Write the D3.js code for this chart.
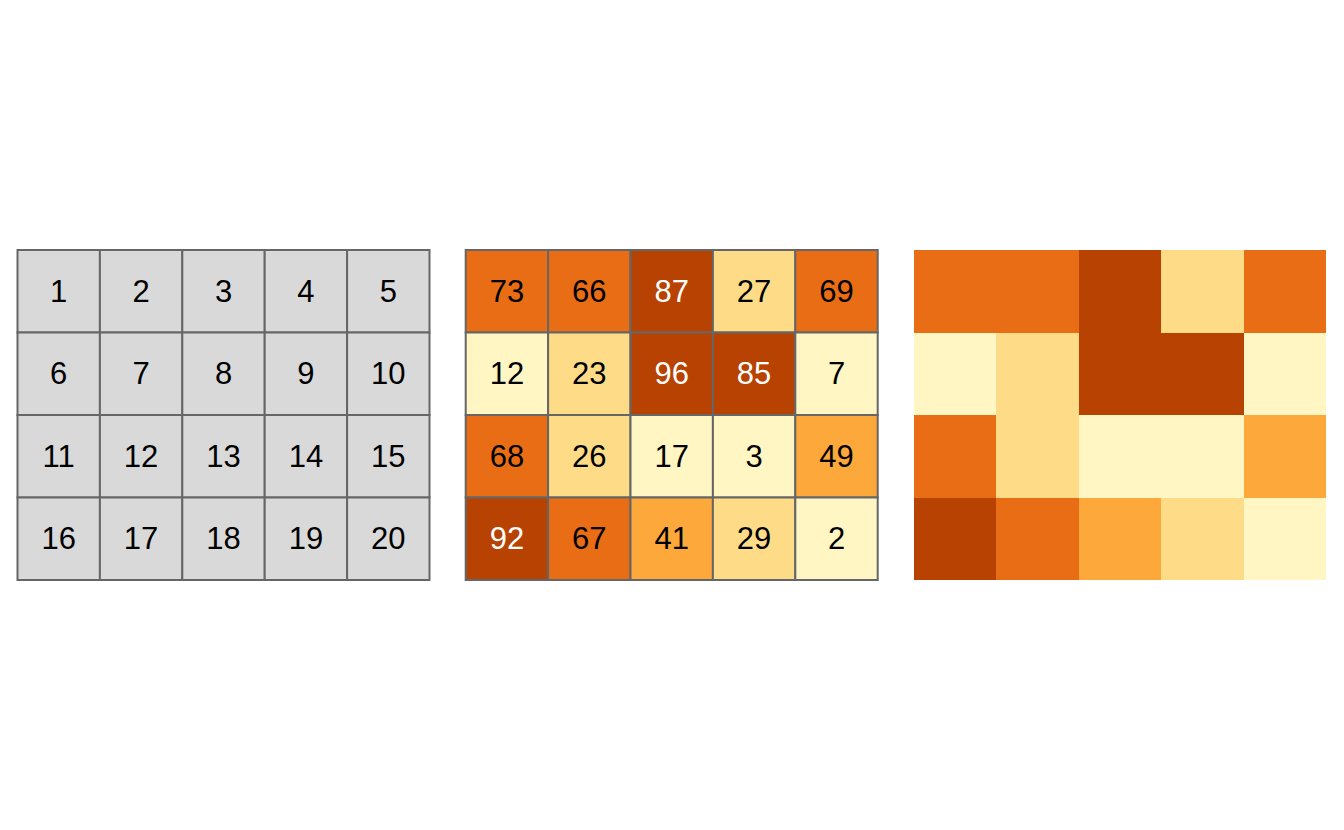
<!DOCTYPE html>
<html><head><meta charset="utf-8">
<script src="https://d3js.org/d3.v7.min.js"></script>
<style>body{margin:0;background:#fff}svg{display:block}</style>
</head><body>
<svg id="c" width="1344" height="830"></svg>
<script>
const indices = d3.range(1, 21);
const values = [73, 66, 87, 27, 69, 12, 23, 96, 85, 7, 68, 26, 17, 3, 49, 92, 67, 41, 29, 2];
const binEdges = [20, 40, 60, 80];
const binColors = ["#FFF6C3", "#FEDC87", "#FDA83A", "#E86D15", "#B74201"];
const nCols = 5, nRows = 4;

(function () {
const svg = d3.select("#c");
const panelX = [17.5, 465.7, 914];
const panelW = 412, panelTop = 250, panelH = 330;
const color = d3.scaleThreshold().domain(binEdges).range(binColors);
const textColor = d3.scaleThreshold().domain([80]).range(["#000", "#fff"]);

const cells = values.map((v, i) => ({idx: indices[i], v, col: i % nCols, row: Math.floor(i / nCols)}));

function panel(k, fillFn, labelFn, txtFn, stroke) {
  const x = d3.scaleBand().domain(d3.range(nCols)).range([panelX[k], panelX[k] + panelW]).padding(0);
  const y = d3.scaleBand().domain(d3.range(nRows)).range([panelTop, panelTop + panelH]).padding(0);
  const g = svg.append("g");
  g.selectAll("rect").data(cells).join("rect")
    .attr("x", d => x(d.col)).attr("y", d => y(d.row))
    .attr("width", x.bandwidth()).attr("height", y.bandwidth())
    .attr("fill", fillFn)
    .attr("stroke", stroke ? "#666666" : "none").attr("stroke-width", stroke ? 2 : 0)
    .attr("shape-rendering", stroke ? "auto" : "crispEdges");
  if (labelFn) {
    g.selectAll("text").data(cells).join("text")
      .attr("x", d => x(d.col) + x.bandwidth() / 2)
      .attr("y", d => y(d.row) + y.bandwidth() / 2)
      .attr("text-anchor", "middle").attr("dominant-baseline", "central")
      .attr("font-family", "Liberation Sans, Arial, sans-serif").attr("font-size", 31)
      .attr("fill", txtFn).text(labelFn);
  }
}
panel(0, () => "#D9D9D9", d => d.idx, () => "#000", true);
panel(1, d => color(d.v), d => d.v, d => textColor(d.v), true);
panel(2, d => color(d.v), null, null, false);
})();
</script>
</body></html>
